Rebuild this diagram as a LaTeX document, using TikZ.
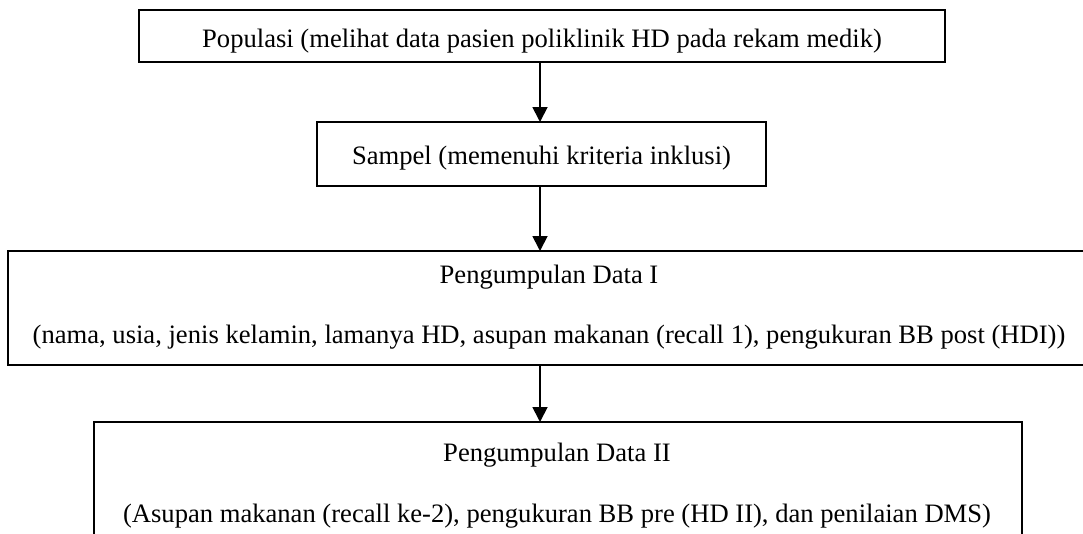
\documentclass[tikz,border=0pt]{standalone}
\usepackage{fontspec}
\setmainfont{Liberation Serif}
\usetikzlibrary{arrows.meta}
\begin{document}
\begin{tikzpicture}[x=1pt,y=-1pt,
  box/.style={draw,line width=1.6pt,inner sep=0pt,outer sep=0pt,rectangle},
  txt/.style={inner sep=0pt,anchor=base,font=\fontsize{26.6}{30}\selectfont},
  arr/.style={line width=1.8pt,-{Triangle[width=15pt,length=15pt]}}]
\useasboundingbox (0,0) rectangle (1083,533);
\clip (0,0) rectangle (1083,533);
\node[box,minimum width=806pt,minimum height=52pt] (b1) at (542,36) {};
\node[box,minimum width=449pt,minimum height=64pt] (b2) at (541.5,154) {};
\node[box,minimum width=1082pt,minimum height=114pt] (b3) at (549,308) {};
\node[box,minimum width=928pt,minimum height=150pt] (b4) at (558,497) {};
\node[txt] (t1) at (542,47) {Populasi (melihat data pasien poliklinik HD pada rekam medik)};
\node[txt] (t2) at (541.5,164) {Sampel (memenuhi kriteria inklusi)};
\node[txt] (t3a) at (549,283) {Pengumpulan Data I};
\node[txt] (t3b) at (549,343) {(nama, usia, jenis kelamin, lamanya HD, asupan makanan (recall 1), pengukuran BB post (HDI))};
\node[txt] (t4a) at (557,461) {Pengumpulan Data II};
\node[txt] (t4b) at (557,522) {(Asupan makanan (recall ke-2), pengukuran BB pre (HD II), dan penilaian DMS)};
\coordinate (ax) at (540,0);
\draw[arr] (b1.south -| ax) -- (b2.north -| ax);
\draw[arr] (b2.south -| ax) -- (b3.north -| ax);
\draw[arr] (b3.south -| ax) -- (b4.north -| ax);
\end{tikzpicture}
\end{document}
